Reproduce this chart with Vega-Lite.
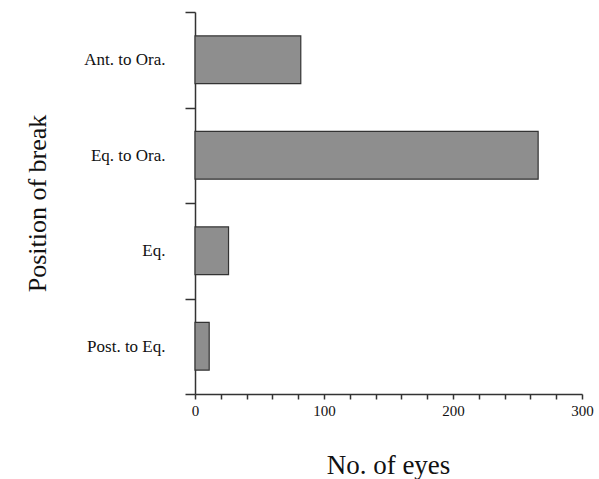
{
  "$schema": "https://vega.github.io/schema/vega-lite/v6.json",
  "width": 387,
  "height": 382,
  "autosize": "none",
  "padding": {"left": 195, "top": 12, "right": 17, "bottom": 85},
  "background": "white",
  "config": {
    "view": {"stroke": null},
    "font": "Liberation Serif",
    "axis": {"grid": false, "domainColor": "#333", "tickColor": "#333", "labelColor": "#111", "titleColor": "#111", "labelFont": "Liberation Serif", "titleFont": "Liberation Serif", "titleFontWeight": "normal", "domainWidth": 1.5, "tickWidth": 1.5}
  },
  "data": {
    "values": [
      {"position": "Ant. to Ora.", "eyes": 82},
      {"position": "Eq. to Ora.", "eyes": 266},
      {"position": "Eq.", "eyes": 26},
      {"position": "Post. to Eq.", "eyes": 11}
    ]
  },
  "mark": {"type": "bar", "fill": "#8e8e8e", "stroke": "#333", "strokeWidth": 1.2, "height": {"band": 0.5}},
  "encoding": {
    "y": {
      "field": "position",
      "type": "nominal",
      "sort": ["Ant. to Ora.", "Eq. to Ora.", "Eq.", "Post. to Eq."],
      "scale": {"paddingInner": 0, "paddingOuter": 0},
      "axis": {
        "title": "Position of break",
        "titleFontSize": 26,
        "titleX": -158,
        "titleY": 191,
        "titleAlign": "center",
        "titleBaseline": "middle",
        "titleAngle": -90,
        "labelFontSize": 17,
        "tickSize": 10,
        "tickBand": "extent",
        "labelPadding": 20
      }
    },
    "x": {
      "field": "eyes",
      "type": "quantitative",
      "scale": {"domain": [0, 300], "nice": false},
      "axis": {
        "title": "No. of eyes",
        "titleFontSize": 27,
        "titleX": 193,
        "titleY": 71,
        "titleAlign": "center",
        "titleBaseline": "middle",
        "values": [0, 20, 40, 60, 80, 100, 120, 140, 160, 180, 200, 220, 240, 260, 280, 300],
        "labelExpr": "datum.value % 100 === 0 ? datum.label : ''",
        "format": "d",
        "labelFontSize": 15,
        "tickSize": 5,
        "labelPadding": 4,
        "labelFlush": false
      }
    }
  }
}
